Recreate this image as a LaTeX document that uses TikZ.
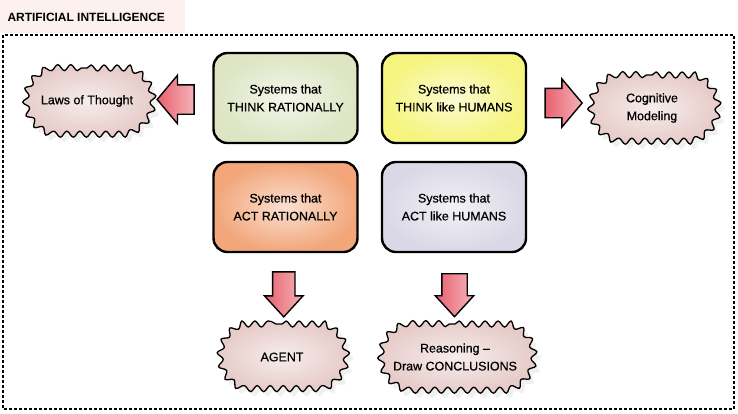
\documentclass[tikz,border=0pt]{standalone}
\usepackage{fontspec}
\setmainfont{Liberation Sans}
\newfontfamily\medfont{Liberation Sans}[FakeBold=0.6,Ligatures=TeX]
\usetikzlibrary{shapes.arrows,shapes.misc,shadows,decorations.pathmorphing,calc}

\definecolor{thinkrat}{HTML}{DDE5C3}
\definecolor{thinkhum}{HTML}{F5F47E}
\definecolor{actrat}{HTML}{F2A67A}
\definecolor{acthum}{HTML}{DAD8E6}
\definecolor{cloudfill}{HTML}{E6CBC8}
\definecolor{arrowred}{HTML}{E8606E}
\definecolor{arrowpink}{HTML}{F4B4B8}
\definecolor{titleback}{HTML}{FCF1EC}

\begin{document}
\begin{tikzpicture}
[x=1bp,y=-1bp,
  font=\medfont\fontsize{12.5}{18}\selectfont,
  boxdecorate/.style={shape=rectangle,rounded corners=14bp,draw,line width=2.4bp,%
    minimum width=144bp,minimum height=90bp,align=center},
  clouddecorate/.style={shape=rounded rectangle,rounded rectangle arc length=150,draw,line width=1.3bp,%
    minimum height=66bp,align=center,inner color=cloudfill!35!white,outer color=cloudfill,%
    decorate,decoration={snake,segment length=13bp,amplitude=3bp},%
    drop shadow={opacity=0.12,shadow xshift=4bp,shadow yshift=-5bp}},
  arrowdecorate/.style={shape=single arrow,draw,line width=1.4bp,inner xsep=0pt,%
    minimum width=0pt,%
    left color=arrowred,middle color=white,right color=arrowpink}]
\useasboundingbox (0,0) rectangle (738,413);
%% title and frame
\fill[titleback] (0,0) rectangle (185,33);
\node (title) at (4,17) [anchor=west,font=\fontsize{12}{14}\selectfont\bfseries] {ARTIFICIAL INTELLIGENCE};
\draw[line width=1.6bp,dash pattern=on 3bp off 2bp] (3,35) rectangle (734,409);
%% boxes
\foreach \nodename/\x/\y/\col/\txt in {
  tr/285.5/98/thinkrat/{Systems that\\THINK RATIONALLY},
  th/454/98/thinkhum/{Systems that\\THINK like HUMANS},
  ar/285.5/207/actrat/{Systems that\\ACT RATIONALLY},
  ah/454/207/acthum/{Systems that\\ACT like HUMANS}} {
  \node (\nodename) at (\x,\y) [boxdecorate,inner color=\col!35!white,outer color=\col] {\txt};
}
%% clouds
\foreach \nodename/\x/\y/\w/\txt in {
  law/87/101/134/{Laws of Thought},
  cog/652/108/134/{Cognitive\\Modeling},
  agent/282/357/131/{AGENT},
  concl/455/357/160/{Reasoning --\\Draw CONCLUSIONS}} {
  \node (\nodename) at (\x,\y) [clouddecorate,minimum width=\w bp] {\txt};
}
%% block arrows
\node (tolaw) at ($(tr.west)!0.5!(law.east)$) [arrowdecorate,rotate=180,inner ysep=14bp,%
  minimum height=37bp,single arrow head extend=9.5bp,single arrow tip angle=100] {};
\node (tocog) at ($(th.east)!0.5!(cog.west)$) [arrowdecorate,inner ysep=14bp,%
  minimum height=37bp,single arrow head extend=9.5bp,single arrow tip angle=100] {};
\node (toagent) at ($(ar.south)!0.5!(agent.north)$) [arrowdecorate,rotate=-90,inner ysep=10.5bp,%
  minimum height=45bp,single arrow head extend=8bp,single arrow tip angle=85] {};
\node (toconcl) at ($(ah.south)!0.5!(concl.north)$) [arrowdecorate,rotate=-90,inner ysep=12bp,%
  minimum height=43bp,single arrow head extend=6.5bp,single arrow tip angle=85] {};
\end{tikzpicture}
\end{document}
